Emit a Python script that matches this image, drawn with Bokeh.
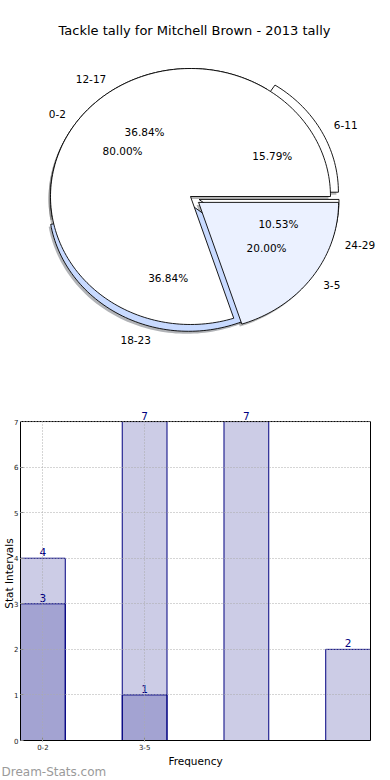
import numpy as np
from bokeh.plotting import figure
from bokeh.models import Range1d, FixedTicker, Span, LinearAxis, Title, Grid
from bokeh.layouts import column
from bokeh.embed import file_html
from bokeh.resources import INLINE
from bokeh.core.properties import value

# ---------------- data ----------------
TITLE = "Tackle tally for Mitchell Brown - 2013 tally"
pie_outer_labels = ["6-11", "12-17", "18-23", "24-29"]
pie_outer_values = [3, 7, 7, 2]
pie_inner_labels = ["0-2", "3-5"]
pie_inner_values = [4, 1]

bar_tick_labels = ["0-2", "3-5"]
bar_back_values = [4, 7, 7, 2]
bar_front_values = [3, 1]
bar_y_ticks = [0, 1, 2, 3, 4, 5, 6, 7]
bar_x_title = "Frequency"
bar_y_title = "Stat Intervals"
WATERMARK = "Dream-Stats.com"

# ---------------- styles ----------------
outer_colors = ["#ffffff", "#ffffff", "#c8daff", "#ffffff"]
inner_colors = ["#ffffff", "#ebf1ff"]
outer_explode = [9, 0, 7, 9]
inner_explode = [0, 10]
FONT = value("DejaVu Sans")
FONT_NAME = "DejaVu Sans"
CX, CY, RX, RY = 190.0, 196.0, 140.0, 128.0
SHADOW = (-2.0, 2.5)


def wedge_poly(cx, cy, t1, t2):
    n = max(3, int(abs(t2 - t1) / 1.5) + 2)
    t = np.radians(np.linspace(t1, t2, n))
    xs = np.concatenate([[cx], cx + RX * np.cos(t), [cx]])
    ys = np.concatenate([[cy], cy - RY * np.sin(t), [cy]])
    return list(xs), list(ys)


def layout_series(labels, values, colors, explode):
    total = float(sum(values))
    out = []
    start = 0.0
    for lab, v, c, e in zip(labels, values, colors, explode):
        span = 360.0 * v / total
        mid = np.radians(start + span / 2.0)
        ox, oy = e * np.cos(mid), -e * np.sin(mid)
        out.append(dict(label=lab, pct=100.0 * v / total, t1=start, t2=start + span,
                        mid=mid, cx=CX + ox, cy=CY + oy, color=c))
        start += span
    return out


def darker(hexcol, f=0.3):
    h = hexcol.lstrip("#")
    r, g, b = (int(h[i:i + 2], 16) for i in (0, 2, 4))
    return "#%02x%02x%02x" % (int(r * f), int(g * f), int(b * f))


wedges = (layout_series(pie_outer_labels, pie_outer_values, outer_colors, outer_explode)
          + layout_series(pie_inner_labels, pie_inner_values, inner_colors, inner_explode))

# ---------------- pie figure ----------------
p1 = figure(width=390, height=390, x_range=Range1d(0, 390), y_range=Range1d(390, 0),
            x_axis_location=None, y_axis_location=None, min_border=0,
            output_backend="svg", toolbar_location=None, title=None)
p1.outline_line_color = None
p1.grid.visible = False

sx, sy, sc = [], [], []
for w in wedges:
    xs, ys = wedge_poly(w["cx"] + SHADOW[0], w["cy"] + SHADOW[1], w["t1"], w["t2"])
    sx.append(xs); sy.append(ys); sc.append(darker(w["color"]))
p1.patches(sx, sy, fill_color=sc, fill_alpha=0.4, line_color=None)

for w in wedges:
    xs, ys = wedge_poly(w["cx"], w["cy"], w["t1"], w["t2"])
    p1.patch(xs, ys, fill_color=w["color"], line_color="black", line_width=0.9)

lx, ly, lt, la = [], [], [], []
px, py, pt = [], [], []
for w in wedges:
    c, s = np.cos(w["mid"]), np.sin(w["mid"])
    lx.append(w["cx"] + 1.1 * RX * c)
    ly.append(w["cy"] - 1.1 * RY * s)
    lt.append(w["label"])
    la.append("left" if c > 0 else "right")
    px.append(w["cx"] + 0.6 * RX * c)
    py.append(w["cy"] - 0.6 * RY * s)
    pt.append("%.2f%%" % w["pct"])

p1.text(x=lx, y=ly, text=lt, text_align=la, text_baseline="middle",
        text_font=FONT, text_font_size="10.5px", text_color="black")
p1.text(x=px, y=py, text=pt, text_align="center", text_baseline="middle",
        text_font=FONT, text_font_size="10.5px", text_color="black")
p1.text(x=[194], y=[30], text=[TITLE], text_align="center", text_baseline="middle",
        text_font=FONT, text_font_size="13px", text_color="black")

# ---------------- bar figure ----------------
n_cat = max(len(bar_back_values), len(bar_front_values))
BW = 0.44
YMAX = max(bar_y_ticks)
x_end = n_cat - 1 + BW / 2
p2 = figure(width=390, height=390, x_range=Range1d(-BW / 2, x_end),
            y_range=Range1d(0, YMAX + 0.33), output_backend="svg", toolbar_location=None,
            title=None, min_border_left=19, min_border_right=20, min_border_top=16,
            min_border_bottom=40)
p2.outline_line_color = None

for pp in (p1, p2):
    if "frame_align" in pp.properties():
        pp.frame_align = False

p2.vbar(x=list(range(len(bar_back_values))), top=bar_back_values, width=BW, bottom=0,
        fill_color="navy", fill_alpha=0.2, line_color="navy", line_width=1)
p2.vbar(x=list(range(len(bar_front_values))), top=bar_front_values, width=BW, bottom=0,
        fill_color="navy", fill_alpha=0.2, line_color="navy", line_width=1)

for vals in (bar_back_values, bar_front_values):
    p2.text(x=list(range(len(vals))), y=vals, text=[str(v) for v in vals],
            text_align="center", text_baseline="bottom", y_offset=-2,
            text_color="navy", text_font=FONT, text_font_size="10.5px")

p2.xaxis.ticker = FixedTicker(ticks=list(range(len(bar_tick_labels))))
p2.xaxis.major_label_overrides = {i: t for i, t in enumerate(bar_tick_labels)}
p2.yaxis.ticker = FixedTicker(ticks=bar_y_ticks)
p2.yaxis.bounds = (0, YMAX)
p2.xaxis.axis_label = bar_x_title
p2.yaxis.axis_label = bar_y_title

right_axis = LinearAxis(ticker=FixedTicker(ticks=[]), bounds=(0, YMAX))
right_axis.major_tick_line_color = None
right_axis.minor_tick_line_color = None
right_axis.axis_line_color = "black"
p2.add_layout(right_axis, "right")

for ax in (p2.xaxis[0], p2.yaxis[0]):
    ax.major_label_text_font = FONT_NAME
    ax.major_label_text_font_size = "7px"
    ax.major_label_text_color = "#222222"
    ax.major_tick_in = 3
    ax.major_tick_out = 1
    ax.major_tick_line_color = "#888888"
    ax.minor_tick_line_color = None
    ax.axis_line_color = "black"
    ax.major_label_standoff = 2
    ax.axis_label_text_font = FONT_NAME
    ax.axis_label_text_font_size = "10.5px"
    ax.axis_label_text_font_style = "normal"
    ax.axis_label_text_color = "black"
    ax.axis_label_standoff = 2
p2.yaxis[0].major_tick_out = 0
p2.yaxis[0].major_label_standoff = 2
p2.yaxis[0].axis_label_standoff = -4

p2.add_layout(Span(location=YMAX, dimension="width", line_color="black", line_width=1))

p2.grid.grid_line_color = "#aaaaaa"
p2.grid.grid_line_dash = "1 2"
p2.grid.grid_line_width = 1
p2.grid.level = "overlay"
if "cross_bounds" in Grid.properties():
    p2.xgrid.cross_bounds = (0, YMAX)

wm = Title(text=WATERMARK, align="left", text_font=FONT_NAME, text_font_size="12px",
           text_font_style="normal", text_color="#9a9a9a", offset=-19, standoff=-13)
p2.add_layout(wm, "below")

layout = column(p1, p2)
open("out.html", "w").write(file_html(layout, INLINE))
